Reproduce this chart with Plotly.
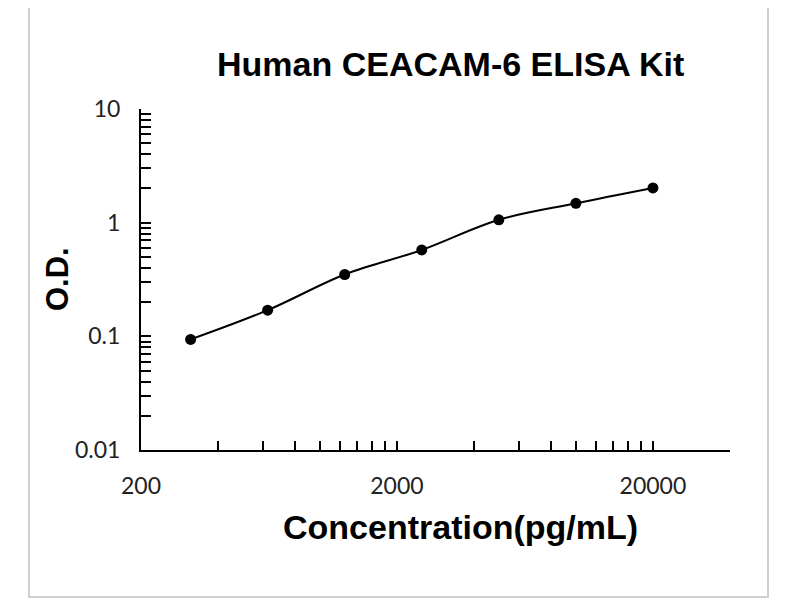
import plotly.graph_objects as go
import numpy as np

concentration = [312.5, 625, 1250, 2500, 5000, 10000, 20000]
od = [0.094, 0.17, 0.35, 0.575, 1.06, 1.48, 2.02]

x_major = [200, 2000, 20000]
x_ticks = sorted(set(200 * m * 10 ** d for d in range(0, 3) for m in range(1, 11) if not (d == 2 and m > 2)))
x_text = [str(v) if v in x_major else "" for v in x_ticks]

y_major = [0.01, 0.1, 1, 10]
y_ticks = sorted(set([round(m * 10.0 ** d, 6) for d in range(-2, 1) for m in range(1, 10)] + [10]))
y_text = [("%g" % v) if v in y_major else "" for v in y_ticks]

# page is rendered with an 8px body offset; lay out in target pixels
OFF = 8
W, H = 800, 600
PL, PR, PT, PB = 141, 730, 109, 450  # plot box in target pixels
L, T = PL - OFF, PT - OFF
pw, ph = PR - PL, PB - PT
R, B = W - L - pw, H - T - ph


def px(x):
    return (x - PL) / pw


def py(y):
    return (PB - y) / ph


fig = go.Figure()
fig.add_trace(go.Scatter(
    x=concentration, y=od, mode="lines+markers",
    line=dict(color="black", width=2, shape="spline", smoothing=1.0),
    marker=dict(color="black", size=11),
    showlegend=False,
))

tickfont = dict(family="Lato, Open Sans, sans-serif", size=23, color="#222")
fig.update_xaxes(
    type="log", range=[np.log10(200), np.log10(40000)],
    tickvals=x_ticks, ticktext=x_text, ticks="inside", ticklen=9, tickwidth=2,
    tickcolor="black", showline=True, linecolor="black", linewidth=2,
    showgrid=False, zeroline=False, tickfont=tickfont, ticklabelstandoff=14,
)
fig.update_yaxes(
    type="log", range=[-2, 1],
    tickvals=y_ticks, ticktext=y_text, ticks="inside", ticklen=10, tickwidth=2,
    tickcolor="black", showline=True, linecolor="black", linewidth=2,
    showgrid=False, zeroline=False, tickfont=tickfont, ticklabelstandoff=14,
)

bold = "Liberation Sans, Arial, sans-serif"
fig.add_annotation(text="<b>Human CEACAM-6 ELISA Kit</b>", xref="paper", yref="paper",
                   x=px(450), y=py(64), showarrow=False,
                   font=dict(family=bold, size=34, color="black"), xanchor="center", yanchor="middle")
fig.add_annotation(text="<b>Concentration(pg/mL)</b>", xref="paper", yref="paper",
                   x=px(460), y=py(527), showarrow=False,
                   font=dict(family=bold, size=34, color="black"), xanchor="center", yanchor="middle")
fig.add_annotation(text="<b>O.D.</b>", xref="paper", yref="paper", textangle=-90,
                   x=px(57), y=py(279), showarrow=False,
                   font=dict(family=bold, size=31, color="black"), xanchor="center", yanchor="middle")

fig.add_shape(type="rect", xref="paper", yref="paper",
              x0=px(29), x1=px(768), y0=py(597), y1=py(1),
              line=dict(color="#cfcfcf", width=2))

fig.update_layout(width=W, height=H, margin=dict(l=L, r=R, t=T, b=B),
                  paper_bgcolor="white", plot_bgcolor="white")
fig.write_html("out.html")
